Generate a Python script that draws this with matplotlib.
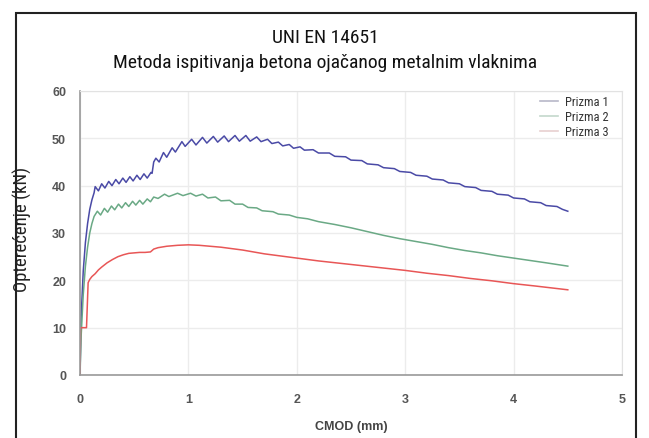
import matplotlib

matplotlib.use("Agg")
import matplotlib.pyplot as plt
from matplotlib.patches import Rectangle

# CMOD (mm) / load (kN)
prizma1_x = [0, 0.01, 0.03, 0.05, 0.07, 0.09, 0.11, 0.13,
             0.14, 0.17, 0.20, 0.23, 0.265, 0.295, 0.33, 0.36, 0.395, 0.425,
             0.46, 0.49, 0.525, 0.555, 0.59, 0.62, 0.655, 0.665,
             0.68, 0.70, 0.73, 0.77, 0.80, 0.85, 0.88, 0.94, 0.97, 1.03, 1.07,
             1.13, 1.17, 1.23, 1.27, 1.33, 1.37, 1.43, 1.47, 1.53, 1.57, 1.63,
             1.67, 1.73, 1.77, 1.83, 1.87, 1.93, 1.97, 2.03, 2.07,
             2.15, 2.2, 2.3, 2.35, 2.45, 2.5, 2.6, 2.65, 2.75, 2.8, 2.9, 2.95,
             3.05, 3.1, 3.2, 3.25, 3.35, 3.4, 3.5, 3.55, 3.65, 3.7, 3.8, 3.85,
             3.95, 4.0, 4.1, 4.15, 4.25, 4.3, 4.4, 4.45, 4.5]
prizma1_y = [0, 12, 22, 28, 32, 35, 37, 38.5,
             39.8, 38.9, 40.4, 39.5, 40.9, 40.0, 41.3, 40.4, 41.6, 40.7,
             41.9, 41.0, 42.2, 41.3, 42.5, 41.6, 42.8, 42.6,
             45.0, 45.8, 45.0, 47.0, 46.0, 48.0, 47.1, 49.3, 48.3, 49.8, 48.6,
             50.2, 49.0, 50.4, 49.2, 50.5, 49.3, 50.6, 49.4, 50.6, 49.4, 50.3,
             49.3, 49.8, 48.9, 49.2, 48.4, 48.7, 47.9, 48.2, 47.5,
             47.6, 46.9, 46.9, 46.2, 46.1, 45.4, 45.3, 44.6, 44.4, 43.8, 43.6, 43.0,
             42.8, 42.2, 42.0, 41.4, 41.2, 40.6, 40.4, 39.8, 39.6, 39.0, 38.8, 38.2,
             38.0, 37.4, 37.2, 36.6, 36.4, 35.8, 35.6, 35.0, 34.6]

prizma2_x = [0, 0.01, 0.03, 0.05, 0.07, 0.09, 0.11, 0.13,
             0.16, 0.19, 0.225, 0.255, 0.29, 0.32, 0.355, 0.385, 0.42, 0.45,
             0.485, 0.515, 0.55, 0.58, 0.62, 0.65, 0.68, 0.72, 0.78, 0.82,
             0.9, 0.95, 1.02, 1.07, 1.13, 1.18, 1.25, 1.3, 1.38, 1.43, 1.5,
             1.55, 1.63, 1.68, 1.78, 1.83, 1.93, 2.0, 2.1, 2.2, 2.35, 2.5,
             2.65, 2.8, 2.95, 3.1, 3.25, 3.4, 3.55, 3.7, 3.85, 4.0, 4.15, 4.3, 4.5]
prizma2_y = [0, 8, 17, 23, 27, 30, 32, 33.5,
             34.6, 33.8, 35.2, 34.4, 35.7, 34.9, 36.1, 35.3, 36.4, 35.6,
             36.7, 35.9, 36.9, 36.1, 37.2, 36.6, 37.6, 37.3, 38.2, 37.7,
             38.4, 37.9, 38.4, 37.8, 38.2, 37.4, 37.6, 36.8, 36.9, 36.1, 36.1,
             35.4, 35.3, 34.7, 34.5, 34.0, 33.8, 33.3, 33.0, 32.4, 31.8, 31.1,
             30.3, 29.5, 28.8, 28.2, 27.6, 26.9, 26.3, 25.8, 25.2, 24.7, 24.2, 23.7, 23.0]

prizma3_x = [0, 0.005, 0.06, 0.075, 0.09, 0.11, 0.14, 0.17, 0.2, 0.25, 0.3,
             0.35, 0.4, 0.45, 0.5, 0.55, 0.6, 0.65, 0.68, 0.72, 0.8, 0.9, 1.0,
             1.1, 1.2, 1.3, 1.4, 1.5, 1.6, 1.7, 1.8, 1.9, 2.0, 2.2, 2.4, 2.6,
             2.8, 3.0, 3.2, 3.4, 3.6, 3.8, 4.0, 4.2, 4.5]
prizma3_y = [0, 10, 10, 19.5, 20.2, 20.8, 21.4, 22.2, 22.8, 23.7, 24.4,
             25.0, 25.4, 25.7, 25.8, 25.9, 25.9, 26.0, 26.6, 26.9, 27.2, 27.4, 27.5,
             27.4, 27.2, 27.0, 26.7, 26.4, 26.0, 25.6, 25.3, 25.0, 24.7, 24.1, 23.6, 23.1,
             22.6, 22.1, 21.5, 21.0, 20.4, 19.9, 19.3, 18.8, 18.0]

series_labels = ["Prizma 1", "Prizma 2", "Prizma 3"]
series_colors = ["#4a4aa6", "#6aa985", "#e85656"]
legend_colors = ["#b8b8c8", "#c4d8cc", "#e8d0d0"]

title = "UNI EN 14651\nMetoda ispitivanja betona ojačanog metalnim vlaknima"
x_label = "CMOD (mm)"
y_label = "Opterećenje (kN)"
x_ticks = [0, 1, 2, 3, 4, 5]
y_ticks = [0, 10, 20, 30, 40, 50, 60]

narrow = ["Roboto Condensed", "Roboto", "DejaVu Sans"]
tick_font = ["Liberation Sans", "DejaVu Sans"]

fig = plt.figure(figsize=(6.49, 4.39), dpi=100)
ax = fig.add_axes([80 / 649, 1 - 376 / 439, 542 / 649, 284 / 439])

series = [(prizma1_x, prizma1_y), (prizma2_x, prizma2_y), (prizma3_x, prizma3_y)]
for (xs, ys), label, color in zip(series, series_labels, series_colors):
    ax.plot(xs, ys, color=color, lw=1.1, label=label)

ax.set_xlim(0, 5)
ax.set_ylim(0, 60)
ax.set_xticks(x_ticks)
ax.set_yticks(y_ticks)
ax.grid(True, color="#ececec", lw=1.0)
ax.set_axisbelow(True)
ax.tick_params(length=0, labelsize=9, labelcolor="#555555")
ax.tick_params(axis="x", pad=13)
ax.tick_params(axis="y", pad=10)
for lbl in ax.get_xticklabels() + ax.get_yticklabels():
    lbl.set_fontweight("bold")
    lbl.set_family(tick_font)
for side in ["top", "right"]:
    ax.spines[side].set_color("#e2e2e2")
for side in ["left", "bottom"]:
    ax.spines[side].set_color("#999999")
    ax.spines[side].set_linewidth(1.2)

ax.set_xlabel(x_label, fontsize=9, fontweight="bold", color="#444444",
              family=tick_font, labelpad=11)
fig.text(22 / 649, 1 - 229 / 439, y_label, rotation=90, ha="center", va="center",
         fontsize=13.5, family=narrow, color="#222222")

fig.text(325 / 649, 1 - 38 / 439, title.split("\n")[0], ha="center", va="center",
         fontsize=14, family=narrow, color="#111111")
fig.text(325 / 649, 1 - 63 / 439, title.split("\n")[1], ha="center", va="center",
         fontsize=14, family=narrow, color="#111111")

handles = [plt.Line2D([], [], color=c, lw=1.2) for c in legend_colors]
leg = ax.legend(handles, series_labels, loc="upper right", frameon=False,
                prop={"family": narrow, "size": 9}, handlelength=1.4,
                handletextpad=0.6, labelspacing=0.15,
                bbox_to_anchor=(0.997, 1.025))
for t in leg.get_texts():
    t.set_color("#333333")

# outer frame, open at the bottom like the cropped original
fig.patches.append(Rectangle((16 / 649, -0.05), 620 / 649, 1.05 - 14 / 439,
                             transform=fig.transFigure, fill=False,
                             edgecolor="#222222", lw=1.5))

fig.savefig("out.png", dpi=100)
